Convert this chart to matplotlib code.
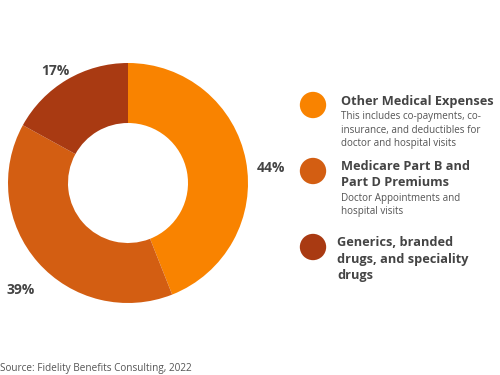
import matplotlib.pyplot as plt
from matplotlib.transforms import offset_copy

plt.rcParams['font.family'] = ['Open Sans', 'DejaVu Sans']

# data
shares = [44, 39, 17]
colors = ['#F98300', '#D35E12', '#A93A12']
titles = ['Other Medical Expenses',
          'Medicare Part B and\nPart D Premiums',
          'Generics, branded\ndrugs, and speciality\ndrugs']
notes = ['This includes co-payments, co-\ninsurance, and deductibles for\ndoctor and hospital visits',
         'Doctor Appointments and\nhospital visits',
         '']
source = 'Source: Fidelity Benefits Consulting, 2022'

W, H = 500, 375
fig = plt.figure(figsize=(5, 3.75), dpi=100)

# donut
cx, cy, r = 128, 183, 120
ax = fig.add_axes([(cx - r) / W, (H - cy - r) / H, 2 * r / W, 2 * r / H])
wedges, texts, autotexts = ax.pie(
    shares, colors=colors, startangle=90, counterclock=False, radius=1,
    wedgeprops=dict(width=0.5, linewidth=0),
    autopct='%d%%', pctdistance=1.2,
    textprops=dict(fontsize=10, fontweight='bold', color='#444444'))
# labels sit a little lower than the default anchor
for t in autotexts:
    t.set_transform(offset_copy(ax.transData, fig=fig, x=1, y=-12, units='dots'))
ax.set_xlim(-1, 1)
ax.set_ylim(-1, 1)
ax.set_aspect('equal')

# legend overlay in pixel coords
ov = fig.add_axes([0, 0, 1, 1])
ov.set_xlim(0, W)
ov.set_ylim(H, 0)
ov.axis('off')

dot_y = [105, 171, 247]
title_y = [101, 175, 259]
note_y = [130, 205, None]
title_x = [341, 341, 337]
ov.scatter([313] * 3, dot_y, s=360, c=colors, linewidths=0)
for i in range(3):
    ov.text(title_x[i], title_y[i], titles[i], fontsize=9.2, fontweight='bold',
            color='#444444', va='center', ha='left', linespacing=1.3)
    if notes[i]:
        ov.text(341, note_y[i], notes[i], fontsize=7.1, color='#555555',
                va='center', ha='left', linespacing=1.3)

ov.text(0, 369, source, fontsize=7.2, color='#555555', va='center', ha='left')

fig.savefig('out.png', dpi=100)
